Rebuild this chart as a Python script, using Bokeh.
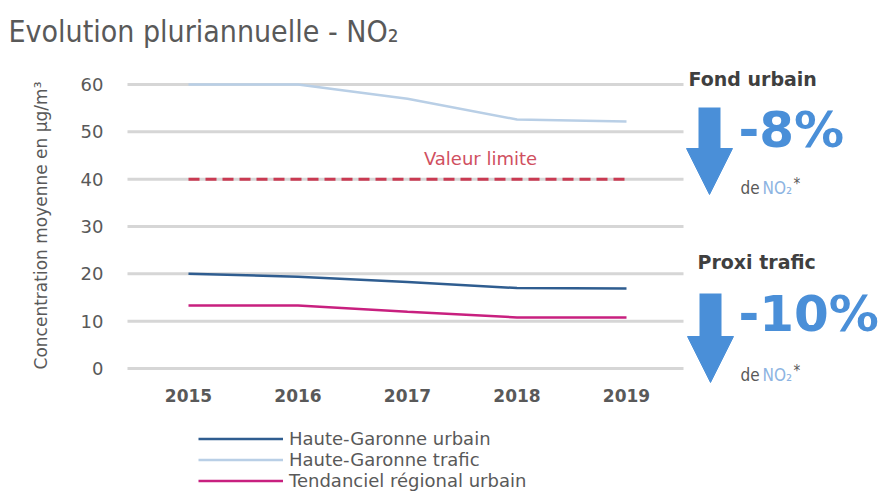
import math
from bokeh.plotting import figure
from bokeh.models import (ColumnDataSource, Range1d, FixedTicker, Legend, LegendItem,
                          Label, Arrow, NormalHead)
from bokeh.embed import file_html
from bokeh.resources import INLINE

# ---- data ----
years = [2015, 2016, 2017, 2018, 2019]
hg_urbain = [20.0, 19.4, 18.3, 17.0, 16.9]
hg_trafic = [60.0, 60.0, 57.0, 52.6, 52.2]
tend_regional = [13.3, 13.3, 12.0, 10.8, 10.8]
valeur_limite = [40, 40, 40, 40, 40]
y_ticks = [0, 10, 20, 30, 40, 50, 60]
series_names = ["Haute-Garonne urbain", "Haute-Garonne trafic", "Tendanciel régional urbain"]
fond_urbain_pct = "-8%"
proxi_trafic_pct = "-10%"

GRAY = "#595959"
BLUE = "#4A8FD8"
COND = "DejaVu Sans Condensed, DejaVu Sans"

W, H = 884, 500
PX_PER_YEAR = 109.5
PX_PER_UNIT = 4.7333
X_ORIGIN_PX = 188   # pixel position of first year
Y_ZERO_PX = 368     # pixel position of value 0

x0 = years[0] - X_ORIGIN_PX / PX_PER_YEAR
y1 = Y_ZERO_PX / PX_PER_UNIT
def dx(px):
    return x0 + px / PX_PER_YEAR
def dy(py):
    return (Y_ZERO_PX - py) / PX_PER_UNIT

p = figure(width=W, height=H, output_backend="svg", toolbar_location=None,
           x_range=Range1d(x0, dx(W)), y_range=Range1d(dy(H), y1),
           min_border_left=0, min_border_right=0, min_border_top=0, min_border_bottom=0)
p.outline_line_color = None
p.background_fill_color = "white"
p.xgrid.visible = False
p.ygrid.visible = False

# grid lines limited to the data area
grid_x0 = dx(127)
grid_x1 = dx(683)
p.segment(x0=[grid_x0] * len(y_ticks), x1=[grid_x1] * len(y_ticks), y0=y_ticks, y1=y_ticks,
          line_color="#D6D6D6", line_width=3)

src = ColumnDataSource(dict(x=years, u=hg_urbain, t=hg_trafic, r=tend_regional, v=valeur_limite))
r_u = p.line("x", "u", source=src, line_color="#2F5D90", line_width=2.5)
r_t = p.line("x", "t", source=src, line_color="#B9CFE6", line_width=2.5)
r_r = p.line("x", "r", source=src, line_color="#C8207F", line_width=2.5)
p.line("x", "v", source=src, line_color="#C93A52", line_width=3, line_dash="11 6")

# axes (placed at fixed positions inside the drawing area)
p.xaxis.ticker = FixedTicker(ticks=years)
p.yaxis.ticker = FixedTicker(ticks=y_ticks)
p.xaxis.fixed_location = dy(385)
p.yaxis.fixed_location = grid_x0
for ax in (p.xaxis[0], p.yaxis[0]):
    ax.axis_line_color = None
    ax.major_tick_line_color = None
    ax.minor_tick_line_color = None
    ax.major_tick_out = 0
    ax.major_tick_in = 0
    ax.minor_tick_out = 0
    ax.major_label_text_color = GRAY
    ax.major_label_text_font = "DejaVu Sans"
p.xaxis.major_label_text_font_size = "17px"
p.xaxis.major_label_text_font_style = "bold"
p.xaxis.major_label_standoff = 3
p.yaxis.major_label_text_font_size = "18px"
p.yaxis.major_label_standoff = 24

# title and y-axis title
p.add_layout(Label(x=dx(8), y=dy(31), text="Evolution pluriannuelle - NO₂", text_font=COND,
                   text_font_size="30px", text_color=GRAY, text_baseline="alphabetic"))
p.add_layout(Label(x=dx(40), y=dy(225), text="Concentration moyenne en µg/m³", angle=math.pi / 2,
                   text_font="DejaVu Sans", text_font_size="17px", text_color=GRAY,
                   text_align="center", text_baseline="middle"))

# legend
legend = Legend(items=[LegendItem(label=series_names[0], renderers=[r_u]),
                       LegendItem(label=series_names[1], renderers=[r_t]),
                       LegendItem(label=series_names[2], renderers=[r_r])],
                location=(198, 9), padding=0, margin=0, spacing=-2,
                glyph_width=85, glyph_height=19, label_height=19, label_standoff=6,
                label_text_font="DejaVu Sans", label_text_font_size="18px",
                label_text_color=GRAY, border_line_color=None, background_fill_alpha=0)
p.add_layout(legend)

# annotations
p.add_layout(Label(x=dx(480), y=dy(158), text="Valeur limite", text_font="DejaVu Sans",
                   text_font_size="18px", text_color="#D0505F", text_align="center",
                   text_baseline="middle"))
p.add_layout(Label(x=dx(688), y=dy(78), text="Fond urbain", text_font="DejaVu Sans",
                   text_font_size="19px", text_font_style="bold", text_color="#3F3F3F",
                   text_baseline="middle"))
p.add_layout(Label(x=dx(697), y=dy(261), text="Proxi trafic", text_font="DejaVu Sans",
                   text_font_size="19px", text_font_style="bold", text_color="#3F3F3F",
                   text_baseline="middle"))
for txt, py in ((fond_urbain_pct, 129), (proxi_trafic_pct, 313)):
    p.add_layout(Label(x=dx(738), y=dy(py), text=txt, text_font="DejaVu Sans",
                       text_font_size="50px", text_font_style="bold", text_color=BLUE,
                       text_baseline="middle"))
for py in (187, 374):
    p.add_layout(Label(x=dx(740), y=dy(py), text="de", text_font=COND,
                       text_font_size="17px", text_color=GRAY, text_baseline="middle"))
    p.add_layout(Label(x=dx(762), y=dy(py), text="NO₂", text_font=COND,
                       text_font_size="17px", text_color="#8DB4E2", text_baseline="middle"))
    p.add_layout(Label(x=dx(793), y=dy(py - 4), text="*", text_font=COND,
                       text_font_size="15px", text_color=GRAY, text_baseline="middle"))

for px, top, tip in ((709, 107, 194), (710, 293, 382)):
    p.add_layout(Arrow(end=NormalHead(size=46, fill_color=BLUE, line_color=BLUE, line_width=1),
                       x_start=dx(px), y_start=dy(top), x_end=dx(px), y_end=dy(tip),
                       line_color=BLUE, line_width=22))

open("out.html", "w").write(file_html(p, INLINE))
